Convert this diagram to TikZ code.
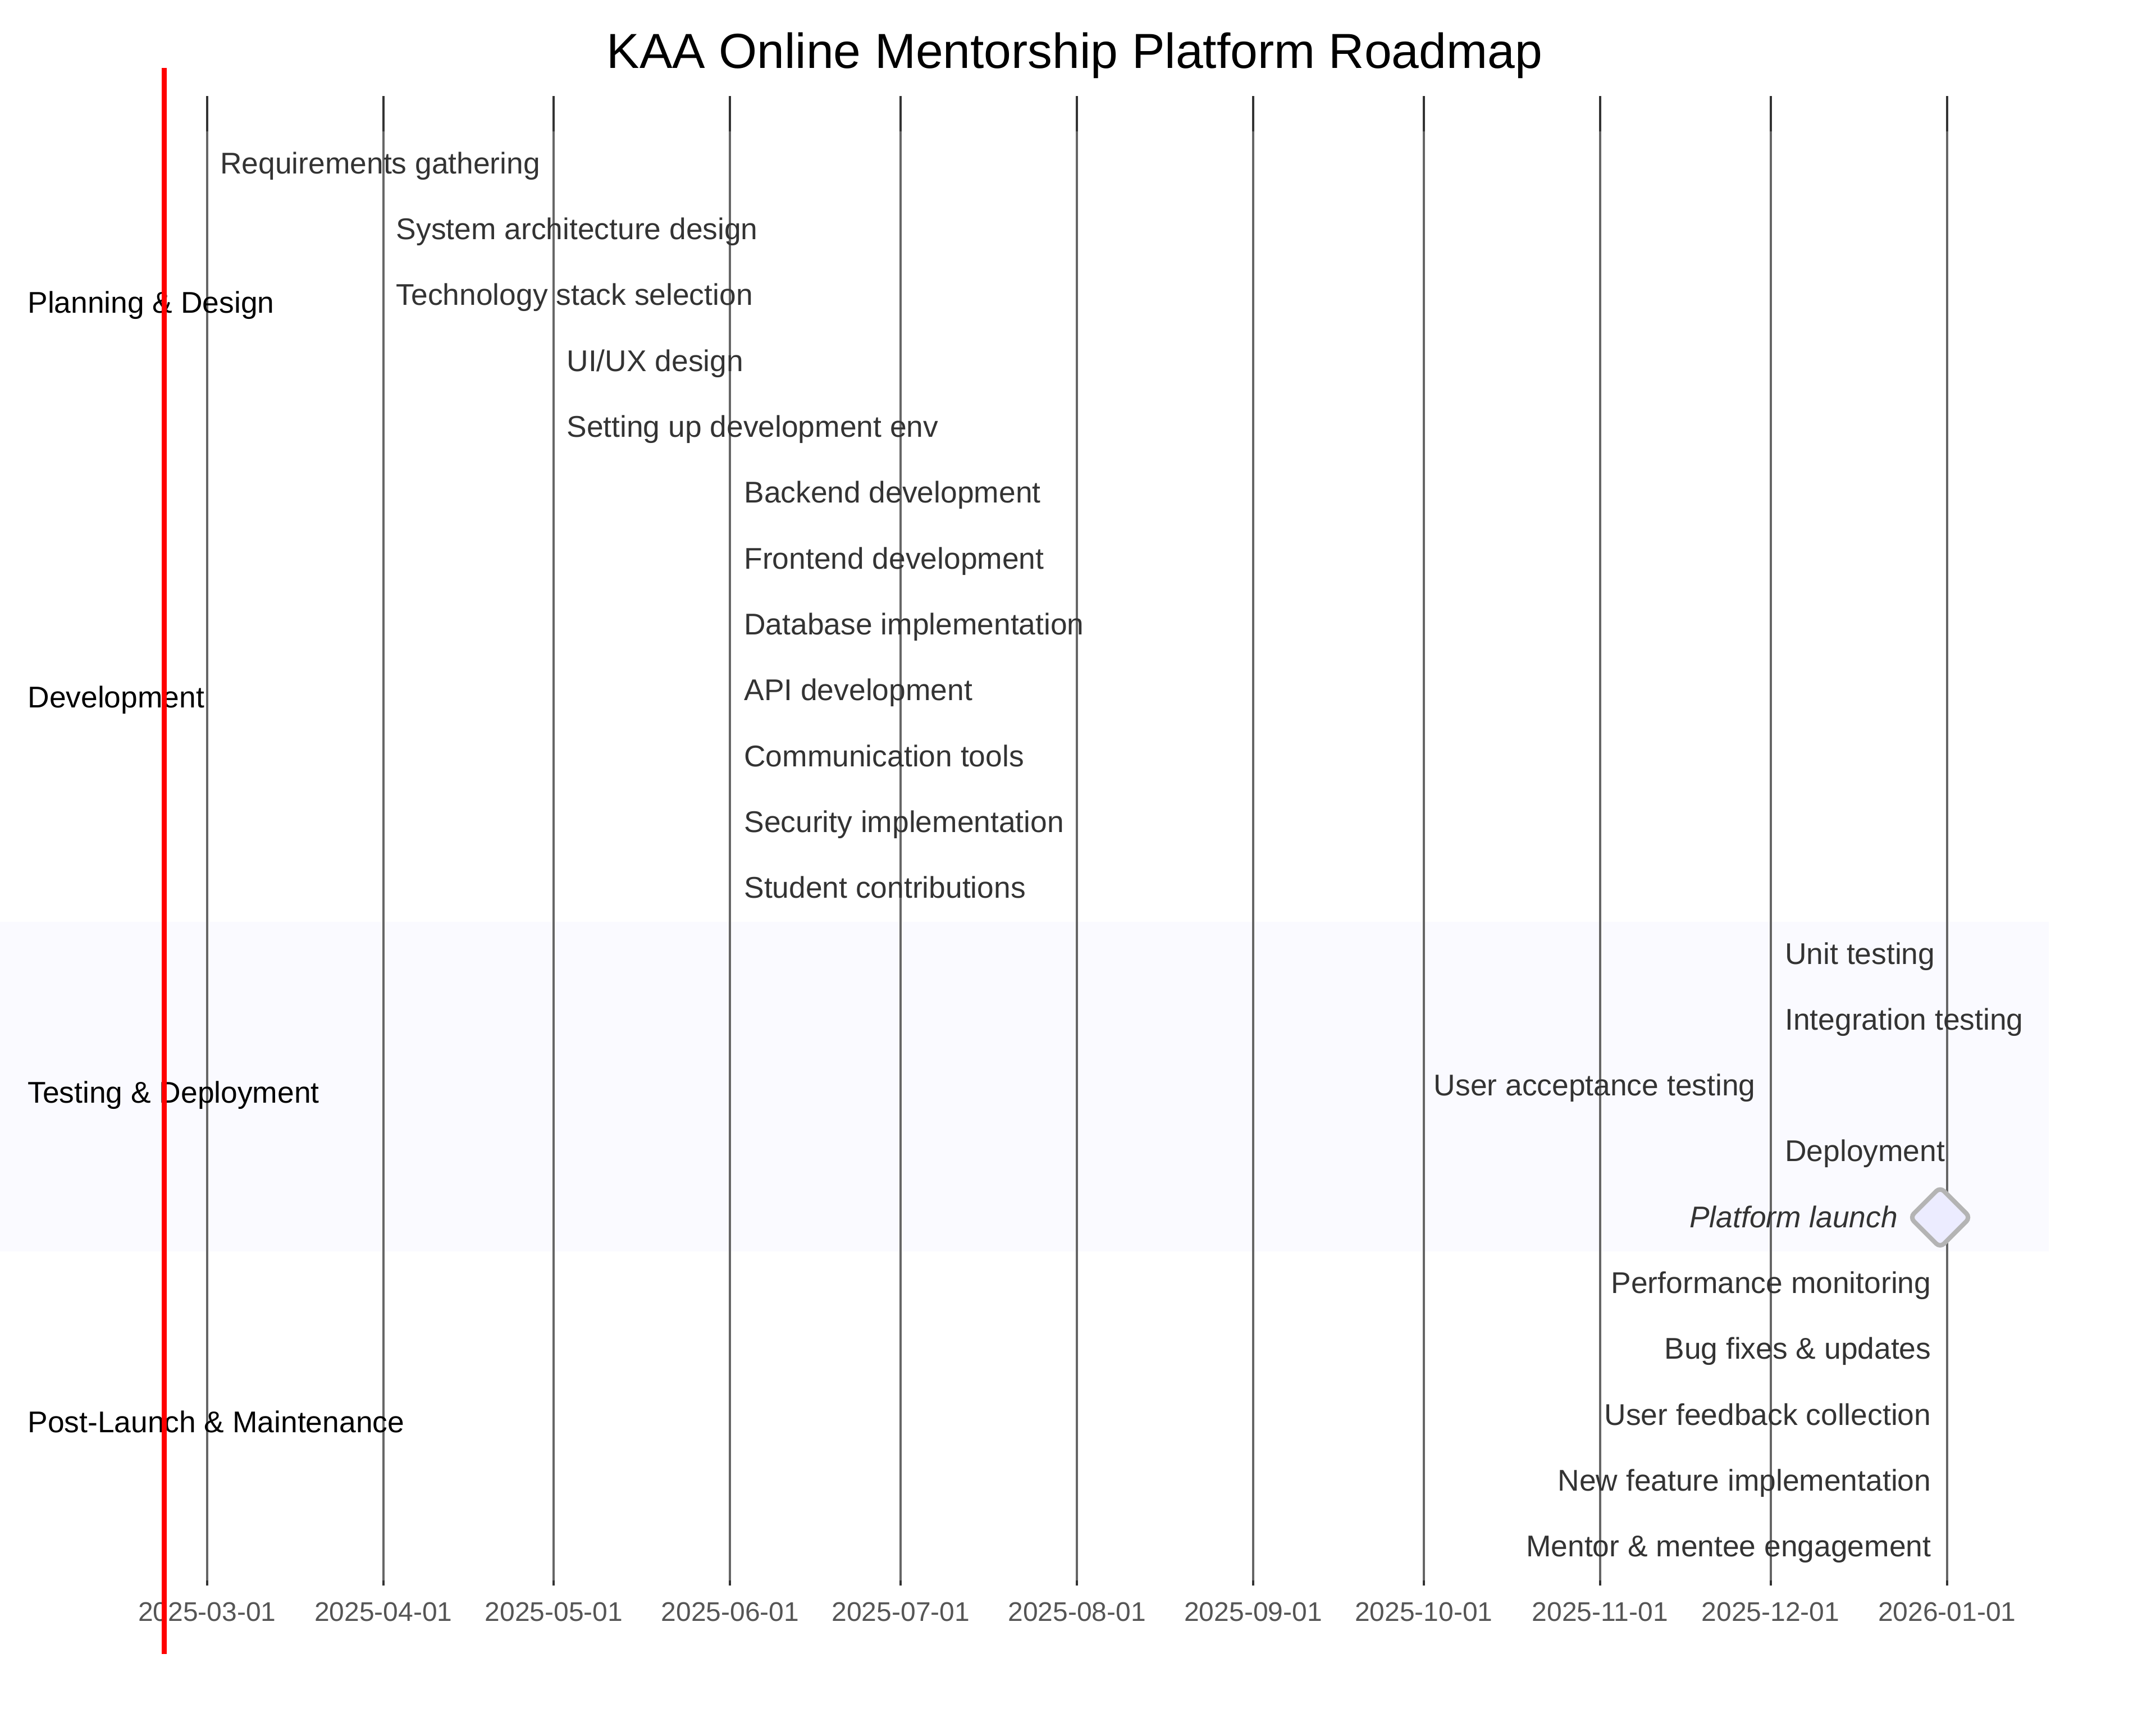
\documentclass[tikz,border=0pt]{standalone}
\usepackage{fontspec}
\setmainfont{Liberation Sans}
\definecolor{taskgray}{HTML}{333333}
\definecolor{tickgray}{HTML}{555555}
\definecolor{gridgray}{HTML}{666666}
\definecolor{tickdark}{HTML}{333333}
\definecolor{bandcol}{HTML}{FAFAFF}
\definecolor{msfill}{HTML}{ECECFF}
\definecolor{msstroke}{HTML}{B4B4B4}
\begin{document}
\begin{tikzpicture}[x=1pt,y=-1pt,
  task/.style={anchor=base west, inner sep=0pt, font=\fontsize{21.8}{26}\selectfont, text=taskgray},
  taskr/.style={task, anchor=base east},
  sect/.style={anchor=base west, inner sep=0pt, font=\fontsize{21.8}{26}\selectfont, text=black},
  ticklab/.style={anchor=base, inner sep=0pt, font=\fontsize{19.6}{24}\selectfont, text=tickgray},
  gridline/.style={draw=gridgray, line width=1.63pt},
  tickend/.style={draw=tickdark, line width=1.63pt},
  milestone/.style={rectangle, draw=msstroke, fill=msfill, line width=3.3pt, minimum size=31pt, inner sep=0pt, rotate=45, rounded corners=4pt},
  today/.style={draw=red, line width=3.7pt}]
\useasboundingbox (0,0) rectangle (1568,1256);
% section band
\fill[bandcol] (0,670.5) rectangle (1490,910);
% grid
\foreach \x/\lab [count=\i] in {150.6/2025-03-01,278.8/2025-04-01,402.8/2025-05-01,531.0/2025-06-01,655.1/2025-07-01,783.3/2025-08-01,911.4/2025-09-01,1035.5/2025-10-01,1163.7/2025-11-01,1287.7/2025-12-01,1416.0/2026-01-01}{
  \draw[gridline] (\x,70) -- (\x,1153);
  \draw[tickend] (\x,70) -- (\x,95.7);
  \draw[tickend] (\x,1149.5) -- (\x,1153);
  \node[ticklab] (tick\i) at (\x,1179) {\lab};
}
% title
\node[anchor=base, inner sep=0pt, font=\fontsize{35.8}{42}\selectfont] (title) at (781.5,49.7) {KAA Online Mentorship Platform Roadmap};
% section labels
\node[sect] (s1) at (20,227.5) {Planning \& Design};
\node[sect] (s2) at (20,514.5) {Development};
\node[sect] (s3) at (20,802.3) {Testing \& Deployment};
\node[sect] (s4) at (20,1041.8) {Post-Launch \& Maintenance};
% tasks
\node[task] (t1) at (160,126.3) {Requirements gathering};
\node[task] (t2) at (288,174.2) {System architecture design};
\node[task] (t3) at (288,222.1) {Technology stack selection};
\node[task] (t4) at (412,270.0) {UI/UX design};
\node[task] (t5) at (412,317.9) {Setting up development env};
\node[task] (t6) at (541,365.8) {Backend development};
\node[task] (t7) at (541,413.7) {Frontend development};
\node[task] (t8) at (541,461.6) {Database implementation};
\node[task] (t9) at (541,509.5) {API development};
\node[task] (t10) at (541,557.4) {Communication tools};
\node[task] (t11) at (541,605.3) {Security implementation};
\node[task] (t12) at (541,653.2) {Student contributions};
\node[task] (t13) at (1298,701.1) {Unit testing};
\node[task] (t14) at (1298,749.0) {Integration testing};
\node[task] (t15) at (1042.6,796.9) {User acceptance testing};
\node[task] (t16) at (1298,844.8) {Deployment};
\node[taskr, font=\fontsize{21.8}{26}\selectfont\itshape] (t17) at (1380.4,892.7) {Platform launch};
\node[milestone] (ms) at (1411,885.4) {};
\node[taskr] (t18) at (1404.6,940.6) {Performance monitoring};
\node[taskr] (t19) at (1404.6,988.5) {Bug fixes \& updates};
\node[taskr] (t20) at (1404.6,1036.4) {User feedback collection};
\node[taskr] (t21) at (1404.6,1084.3) {New feature implementation};
\node[taskr] (t22) at (1404.6,1132.2) {Mentor \& mentee engagement};
% today marker
\coordinate (redtop) at (119.6,49.6);
\coordinate (redbot) at (119.6,1203);
\draw[today] (redtop) -- (redbot);
\end{tikzpicture}
\end{document}
